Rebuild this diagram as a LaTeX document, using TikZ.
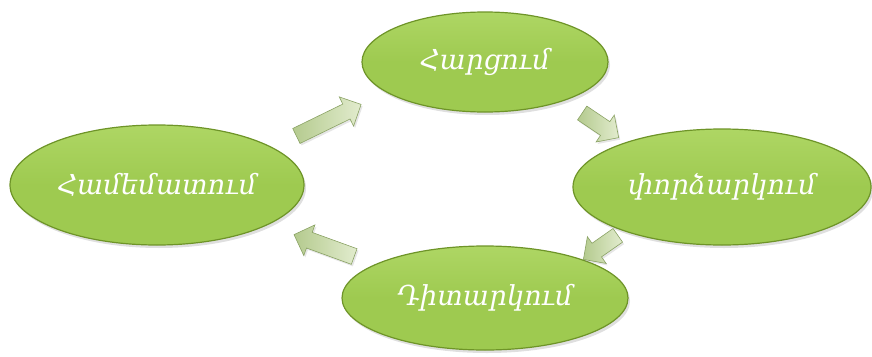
\documentclass[tikz,border=0pt]{standalone}
\usepackage{fontspec}
\setmainfont{DejaVu Serif}
\usetikzlibrary{shapes.geometric,shapes.arrows,shadows}

\definecolor{leafgreen}{RGB}{158,202,80}
\definecolor{leaflight}{RGB}{174,214,100}
\definecolor{leafrim}{RGB}{110,148,40}
\definecolor{palegreen}{RGB}{226,236,206}
\definecolor{sagegreen}{RGB}{180,202,142}
\definecolor{sagerim}{RGB}{138,162,100}

\begin{document}
\begin{tikzpicture}[
        x=1pt, y=-1pt,
        stage/.style={ellipse, draw=leafrim, line width=1.2pt,
          top color=leaflight, bottom color=leafgreen, middle color=leafgreen,
          text=white, inner sep=0pt,
          font=\itshape\fontsize{27.5}{32}\selectfont,
          drop shadow={shadow xshift=2pt, shadow yshift=-3pt, opacity=0.25}},
        flow/.style={single arrow, draw=sagerim, line width=0.6pt,
          left color=sagegreen, right color=palegreen,
          inner sep=0pt, inner ysep=8pt, single arrow head extend=8pt,
          drop shadow={shadow xshift=1.5pt, shadow yshift=-2pt, opacity=0.2}}
    ]
      \useasboundingbox (0,0) rectangle (872,356);

      % Stages of the cycle
      \node[stage, minimum width=246pt, minimum height=100pt] (ask) at (485,62) {Հարցում};
      \node[stage, minimum width=298pt, minimum height=116pt] (test) at (722,187) {փորձարկում};
      \node[stage, minimum width=286pt, minimum height=104pt] (watch) at (485,298) {Դիտարկում};
      \node[stage, minimum width=294pt, minimum height=120pt] (compare) at (157,185) {Համեմատում};

      % Block arrows between stages
      \node[flow, minimum height=72pt, rotate=26] (a1) at (325,122) {};
      \node[flow, minimum height=44pt, rotate=-34] (a2) at (597,123) {};
      \node[flow, minimum height=42pt, rotate=215] (a3) at (604,245) {};
      \node[flow, minimum height=64pt, rotate=160] (a4) at (328,247) {};
    \end{tikzpicture}
\end{document}
